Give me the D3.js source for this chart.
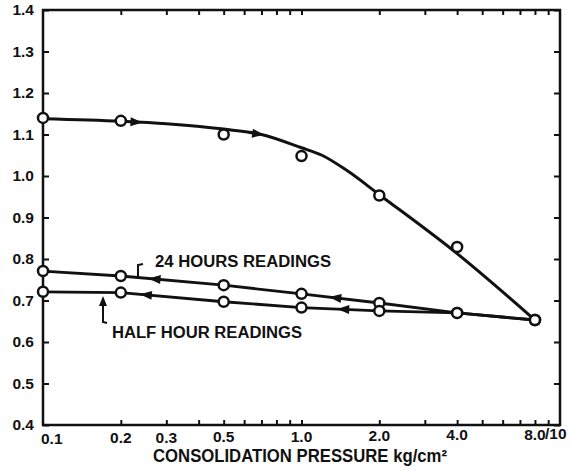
<!DOCTYPE html>
<html><head><meta charset="utf-8">
<script src="https://cdn.jsdelivr.net/npm/d3@7"></script>
<style>
body{margin:0;background:#fff;}
text{font-family:"Liberation Sans",Arial,Helvetica,sans-serif;font-weight:bold;fill:#111;}
</style></head>
<body>
<script>
// ---- data ----
const pressure = [0.1, 0.2, 0.5, 1.0, 2.0, 4.0, 8.0];
const loadPoints = [1.140, 1.133, 1.100, 1.048, 0.953, 0.829, 0.653];
const reading24h = [0.771, 0.759, 0.737, 0.716, 0.694, 0.670, 0.653];
const readingHalfHour = [0.721, 0.719, 0.697, 0.683, 0.675, 0.670, 0.653];
const loadCurvePressure = [0.1, 0.2, 0.3, 0.5, 0.7, 1.0, 1.2, 1.5, 2.0, 4.0, 8.0];
const loadCurveRatio = [1.138, 1.132, 1.126, 1.113, 1.100, 1.068, 1.050, 1.013, 0.955, 0.813, 0.653];
const xMinorTicks = [0.2,0.3,0.4,0.5,0.6,0.7,0.8,0.9,1,2,3,4,5,6,7,8,9];
const xLabelValues = [0.1, 0.2, 0.3, 0.5, 1, 2, 4, 8, 10];
const xLabels = ["0.1", "0.2", "0.3", "0.5", "1.0", "2.0", "4.0", "8.0", "/10"];
const yTickValues = [0.4,0.5,0.6,0.7,0.8,0.9,1.0,1.1,1.2,1.3,1.4];
const yLabels = ["0.4","0.5","0.6","0.7","0.8","0.9","1.0","1.1","1.2","1.3","1.4"];
const xTitle = "CONSOLIDATION PRESSURE kg/cm²";
const label24 = "24 HOURS READINGS";
const labelHalf = "HALF HOUR READINGS";
// arrow positions (pressure) along each curve
const loadArrows = [0.23, 0.68];
const arrows24 = [0.27, 1.35];
const arrowsHalf = [0.25, 1.45];

const W = 571, H = 471;
const svg = d3.select("body").append("svg").attr("width", W).attr("height", H);
const x = d3.scaleLog().domain([0.1, 10]).range([43, 560]);
const y = d3.scaleLinear().domain([0.4, 1.4]).range([425, 10]);

// axes ticks
const gB = svg.append("g").attr("transform", "translate(0,425)")
  .call(d3.axisBottom(x).tickValues(xMinorTicks).tickSize(-5).tickFormat(""));
const gT = svg.append("g").attr("transform", "translate(0,10)")
  .call(d3.axisTop(x).tickValues(xMinorTicks).tickSize(-5).tickFormat(""));
const gL = svg.append("g").attr("transform", "translate(43,0)")
  .call(d3.axisLeft(y).tickValues(yTickValues).tickSize(-6).tickFormat(""));
const gR = svg.append("g").attr("transform", "translate(560,0)")
  .call(d3.axisRight(y).tickValues(yTickValues).tickSize(-6).tickFormat(""));
[gB, gT, gL, gR].forEach(g => {
  g.select(".domain").remove();
  g.selectAll("line").attr("stroke", "#111").attr("stroke-width", 2);
});
// frame
svg.append("rect").attr("x", 43).attr("y", 10).attr("width", 517).attr("height", 415)
  .attr("fill", "none").attr("stroke", "#111").attr("stroke-width", 2.5);

// x labels
svg.append("g").selectAll("text").data(xLabelValues).join("text")
  .attr("x", (d, i) => i === 0 ? x(d) - 2 : (i === xLabels.length - 1 ? x(d) - 15 : x(d)))
  .attr("y", (d, i) => 444 - i * 0.6)
  .attr("text-anchor", (d, i) => i === 0 || i === xLabels.length - 1 ? "start" : "middle")
  .attr("font-size", 15.5)
  .text((d, i) => xLabels[i]);
// y labels
svg.append("g").selectAll("text").data(yTickValues).join("text")
  .attr("x", 34).attr("y", d => y(d)).attr("dy", "0.35em")
  .attr("text-anchor", "end").attr("font-size", 15.5)
  .text((d, i) => yLabels[i]);
// title
svg.append("text").attr("x", 153).attr("y", 462).attr("font-size", 17.5)
  .attr("textLength", 294).attr("lengthAdjust", "spacingAndGlyphs").text(xTitle);

// lines
const line = d3.line().x(d => x(d[0])).y(d => y(d[1]));
const loadCurve = loadCurvePressure.map((p, i) => [p, loadCurveRatio[i]]);
const l24 = pressure.map((p, i) => [p, reading24h[i]]);
const lHalf = pressure.map((p, i) => [p, readingHalfHour[i]]);
svg.append("path").datum(loadCurve).attr("d", line.curve(d3.curveMonotoneX))
  .attr("fill", "none").attr("stroke", "#111").attr("stroke-width", 3);
const straight = d3.line().x(d => x(d[0])).y(d => y(d[1]));
[l24, lHalf].forEach(dat => svg.append("path").datum(dat).attr("d", straight)
  .attr("fill", "none").attr("stroke", "#111").attr("stroke-width", 2.8));

// arrows
function interp(data, p) {
  for (let i = 0; i < data.length - 1; i++) {
    if (p >= data[i][0] && p <= data[i + 1][0]) {
      const t = (Math.log(p) - Math.log(data[i][0])) / (Math.log(data[i + 1][0]) - Math.log(data[i][0]));
      return { v: data[i][1] + t * (data[i + 1][1] - data[i][1]), a: data[i], b: data[i + 1] };
    }
  }
}
function drawArrow(data, p, dir) {
  const r = interp(data, p);
  const px = x(p), py = y(r.v);
  const ang = Math.atan2(y(r.b[1]) - y(r.a[1]), x(r.b[0]) - x(r.a[0])) * 180 / Math.PI + (dir < 0 ? 180 : 0);
  svg.append("path").attr("d", "M6,0 L-6,-4.5 L-6,4.5 Z")
    .attr("transform", `translate(${px},${py}) rotate(${ang})`).attr("fill", "#111");
}
loadArrows.forEach(p => drawArrow(loadCurve, p, 1));
arrows24.forEach(p => drawArrow(l24, p, -1));
arrowsHalf.forEach(p => drawArrow(lHalf, p, -1));

// points
function pts(vals) {
  svg.append("g").selectAll("circle").data(pressure).join("circle")
    .attr("cx", d => x(d)).attr("cy", (d, i) => y(vals[i])).attr("r", 5)
    .attr("fill", "#fff").attr("stroke", "#111").attr("stroke-width", 2.5);
}
pts(loadPoints); pts(reading24h); pts(readingHalfHour);

// annotations
svg.append("text").attr("x", 155).attr("y", 267).attr("font-size", 16)
  .attr("textLength", 176).attr("lengthAdjust", "spacingAndGlyphs").text(label24);
svg.append("path").attr("d", "M138,278 L138,265 L143,264").attr("fill", "none")
  .attr("stroke", "#111").attr("stroke-width", 2);
svg.append("text").attr("x", 112).attr("y", 338).attr("font-size", 16)
  .attr("textLength", 190).attr("lengthAdjust", "spacingAndGlyphs").text(labelHalf);
svg.append("path").attr("d", "M107,323 L103,322 L103,303").attr("fill", "none")
  .attr("stroke", "#111").attr("stroke-width", 2);
svg.append("path").attr("d", "M103,296 L99,306 L107,306 Z").attr("fill", "#111");
</script>
</body></html>
